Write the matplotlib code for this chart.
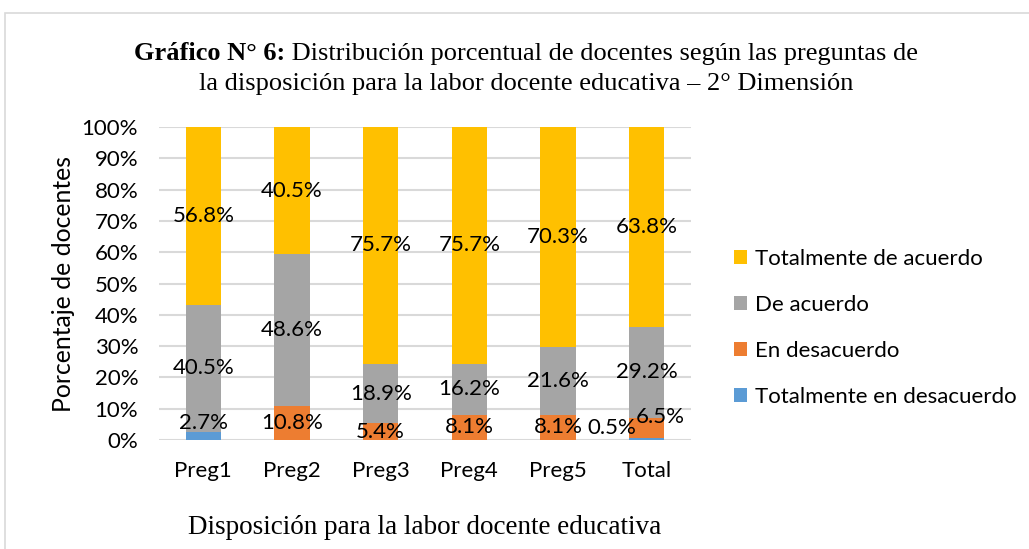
import matplotlib
matplotlib.use('Agg')
import matplotlib.pyplot as plt
import numpy as np
from matplotlib.patches import Patch, Rectangle
from matplotlib.ticker import PercentFormatter

# data (percent)
categorias = ['Preg1', 'Preg2', 'Preg3', 'Preg4', 'Preg5', 'Total']
series = ['Totalmente en desacuerdo', 'En desacuerdo', 'De acuerdo', 'Totalmente de acuerdo']
tot_desacuerdo = [2.7, 0.0, 0.0, 0.0, 0.0, 0.5]
en_desacuerdo = [0.0, 10.8, 5.4, 8.1, 8.1, 6.5]
de_acuerdo = [40.5, 48.6, 18.9, 16.2, 21.6, 29.2]
tot_acuerdo = [56.8, 40.5, 75.7, 75.7, 70.3, 63.8]
colores = ['#5B9BD5', '#ED7D31', '#A5A5A5', '#FFC000']

# label nudges (pixels) where Excel moved labels off the segment centre
nudges = {(0, 0): (0, 13), (0, 5): (-35, 11), (1, 5): (14, 11)}

sans = ['Lato', 'DejaVu Sans']
serif = ['Liberation Serif', 'DejaVu Serif']

fig = plt.figure(figsize=(10.29, 5.49), dpi=100)
ax = fig.add_axes([0.1545, 0.1985, 0.517, 0.5702])

# chart area border
fig.patches.append(Rectangle((5 / 1029, -0.1), 1.2, 1.1 - 13 / 549,
                             transform=fig.transFigure, fill=False,
                             edgecolor='#D9D9D9', linewidth=1.2))

x = np.arange(len(categorias))
data = [tot_desacuerdo, en_desacuerdo, de_acuerdo, tot_acuerdo]
bottom = np.zeros(len(categorias))
for i, vals in enumerate(data):
    vals = np.array(vals)
    ax.bar(x, vals, 0.4, bottom=bottom, color=colores[i], label=series[i], zorder=3)
    for j, v in enumerate(vals):
        if v <= 0:
            continue
        dx, dy = nudges.get((i, j), (0, 0))
        ax.annotate('%.1f%%' % v, (x[j], bottom[j] + v / 2), xytext=(dx, dy),
                    textcoords='offset pixels', ha='center', va='center',
                    fontsize=16, family=sans, color='black', zorder=5)
    bottom += vals

ax.set_xlim(-0.5, 5.5)
ax.set_ylim(0, 100)
ax.set_yticks(np.arange(0, 101, 10))
ax.yaxis.set_major_formatter(PercentFormatter(decimals=0))
ax.set_xticks(x)
ax.set_xticklabels(categorias)
for lab in ax.get_xticklabels() + ax.get_yticklabels():
    lab.set_family(sans)
    lab.set_fontsize(16)
ax.tick_params(length=0)
ax.tick_params(axis='y', pad=15)
ax.tick_params(axis='x', pad=15)
ax.grid(axis='y', color='#D9D9D9', linewidth=1.5, zorder=0)
for s in ax.spines.values():
    s.set_visible(False)

ax.set_ylabel('Porcentaje de docentes', fontsize=17.8, family=sans, labelpad=5)
fig.text(425 / 1029, 1 - 527 / 549, 'Disposición para la labor docente educativa',
         ha='center', va='center', fontsize=19.5, family=serif)

# title: bold prefix + regular rest on line 1
t1 = fig.text(0, 0, 'Gráfico N° 6:', fontsize=19, family=serif, weight='bold')
t2 = fig.text(0, 0, ' Distribución porcentual de docentes según las preguntas de',
              fontsize=19, family=serif)
fig.canvas.draw()
r = fig.canvas.get_renderer()
w1 = t1.get_window_extent(r).width
w2 = t2.get_window_extent(r).width
cx = 526
y1 = 1 - 60 / 549
start = cx - (w1 + w2) / 2
t1.set_position((start / 1029, y1))
t2.set_position(((start + w1) / 1029, y1))
t1.set_va('baseline')
t2.set_va('baseline')
fig.text(cx / 1029, 1 - 90 / 549,
         'la disposición para la labor docente educativa – 2° Dimensión',
         ha='center', va='baseline', fontsize=19, family=serif)

handles = [Patch(facecolor=colores[i]) for i in range(3, -1, -1)]
labels = [series[i] for i in range(3, -1, -1)]
fig.legend(handles, labels, loc='center left', bbox_to_anchor=(714 / 1029, 1 - 328 / 549),
           frameon=False, prop={'family': sans, 'size': 16},
           handlelength=0.59, handleheight=0.59, handletextpad=0.36, labelspacing=1.17)

fig.savefig('out.png', dpi=100)
